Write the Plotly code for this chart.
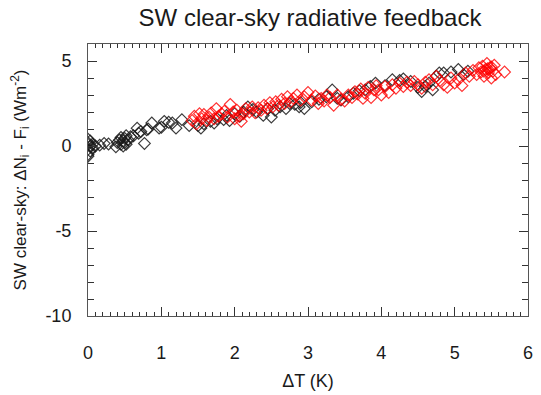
import plotly.graph_objects as go

# Black series (dT, SW clear-sky)
black_x = [0.00, 0.00, 0.00, 0.00, 0.00, 0.00, 0.03, 0.03, 0.03, 0.06, 0.06, 0.10, 0.16, 0.22, 0.28,
           0.38, 0.40, 0.43, 0.45, 0.45, 0.48, 0.48, 0.50, 0.50, 0.52, 0.52, 0.55, 0.58, 0.62, 0.67,
           0.69, 0.72, 0.77, 0.80, 0.82, 0.87, 0.97, 1.00, 1.04, 1.10, 1.15, 1.20, 1.28, 1.38, 1.50,
           1.54, 1.58, 1.67, 1.72, 1.76, 1.85, 1.89, 1.93, 2.00, 2.07, 2.12, 2.18, 2.25, 2.30, 2.39,
           2.45, 2.50, 2.55, 2.62, 2.70, 2.75, 2.82, 2.88, 2.90, 2.95, 3.05, 3.15, 3.25, 3.33, 3.40,
           3.45, 3.55, 3.62, 3.70, 3.78, 3.85, 3.92, 4.05, 4.15, 4.25, 4.30, 4.40, 4.50, 4.55, 4.60,
           4.65, 4.70, 4.75, 4.79, 4.85, 4.95, 5.05, 5.12, 5.18]
black_y = [0.40, 0.10, -0.20, -0.50, -0.60, 0.20, 0.00, -0.30, 0.30, 0.10, -0.10, 0.00, 0.05, 0.15, 0.12,
           -0.05, 0.20, 0.35, 0.50, 0.10, 0.30, 0.00, 0.45, 0.20, 0.60, 0.10, 0.35, 0.55, 0.60, 1.05,
           0.75, 0.85, 0.15, 0.95, 1.00, 1.35, 1.05, 1.10, 1.45, 1.40, 1.35, 1.05, 1.55, 1.20, 1.20,
           1.05, 1.30, 1.45, 1.35, 1.60, 1.55, 1.80, 1.50, 1.90, 1.75, 2.00, 2.30, 2.15, 2.00, 1.80,
           2.20, 1.70, 2.10, 2.30, 2.20, 2.50, 2.45, 2.30, 2.55, 2.20, 2.60, 2.75, 2.90, 3.30, 2.80,
           2.70, 2.90, 3.10, 3.25, 3.30, 3.50, 3.70, 3.55, 3.90, 3.85, 3.95, 3.80, 3.45, 3.20, 3.50,
           3.70, 3.30, 4.10, 4.30, 4.30, 4.35, 4.50, 4.20, 4.40]

# Red series
red_x = [1.42, 1.45, 1.48, 1.52, 1.55, 1.58, 1.62, 1.65, 1.68, 1.72, 1.75, 1.78, 1.82, 1.86, 1.90,
         1.94, 1.98, 2.00, 2.03, 2.06, 2.09, 2.12, 2.15, 2.20, 2.24, 2.28, 2.32, 2.36, 2.40, 2.44,
         2.48, 2.52, 2.56, 2.60, 2.64, 2.68, 2.72, 2.76, 2.80, 2.85, 2.90, 2.95, 3.00, 3.05, 3.10,
         3.14, 3.18, 3.22, 3.26, 3.30, 3.35, 3.40, 3.45, 3.50, 3.55, 3.60, 3.64, 3.68, 3.72, 3.75,
         3.78, 3.82, 3.86, 3.90, 3.93, 3.96, 4.00, 4.05, 4.10, 4.15, 4.20, 4.25, 4.30, 4.35, 4.40,
         4.45, 4.50, 4.55, 4.60, 4.65, 4.70, 4.75, 4.80, 4.85, 4.90, 4.95, 5.00, 5.05, 5.10, 5.15,
         5.20, 5.25, 5.30, 5.33, 5.36, 5.38, 5.40, 5.42, 5.44, 5.46, 5.48, 5.50, 5.52, 5.54, 5.56,
         5.45, 5.50, 5.40, 5.68]
red_y = [1.50, 1.75, 1.30, 1.90, 1.60, 1.85, 1.50, 1.70, 1.95, 1.60, 2.20, 1.75, 1.90, 2.05, 1.70,
         2.45, 2.00, 1.60, 2.10, 1.75, 1.45, 1.90, 2.20, 2.00, 2.30, 1.95, 2.25, 2.10, 2.40, 2.20,
         2.55, 2.30, 2.60, 2.40, 2.75, 2.50, 2.90, 2.60, 2.80, 3.00, 2.70, 2.90, 3.15, 2.70, 2.95,
         2.50, 2.80, 2.65, 3.00, 2.85, 2.40, 3.00, 2.75, 2.65, 3.00, 2.85, 3.20, 3.05, 3.35, 2.80,
         3.10, 3.45, 2.85, 3.30, 3.55, 3.30, 3.00, 3.50, 3.15, 3.60, 3.40, 3.70, 3.50, 3.75, 3.55,
         3.80, 3.60, 3.40, 3.75, 3.90, 3.60, 4.10, 3.85, 3.60, 3.45, 4.00, 3.70, 3.90, 3.55, 4.30,
         4.10, 4.45, 4.20, 4.60, 4.35, 4.70, 4.10, 4.50, 4.85, 4.30, 4.60, 4.00, 4.40, 4.75, 4.20,
         4.55, 4.65, 4.40, 4.35]

x_ticks = [0, 1, 2, 3, 4, 5, 6]
x_ticklabels = ["0", "1", "2", "3", "4", "5", "6"]
y_ticks = [-10, -5, 0, 5]
y_ticklabels = ["-10", "-5", "0", "5"]

FONT = "Liberation Sans, Arial, Helvetica, sans-serif"
TXT = "#1a1a1a"

fig = go.Figure()
fig.add_trace(go.Scatter(
    x=black_x, y=black_y, mode="markers",
    marker=dict(symbol="diamond-open", size=9, color="rgba(25,25,25,0.85)", line=dict(width=1.2)),
    showlegend=False))
fig.add_trace(go.Scatter(
    x=red_x, y=red_y, mode="markers",
    marker=dict(symbol="diamond-open", size=9, color="rgba(255,0,0,0.8)", line=dict(width=1.2)),
    showlegend=False))
# invisible trace to anchor the mirrored top/right axes
fig.add_trace(go.Scatter(x=[None], y=[None], xaxis="x2", yaxis="y2", showlegend=False, hoverinfo="skip"))

axis_common = dict(
    showgrid=False, zeroline=False, showline=True, linecolor="#555555", linewidth=1,
    ticks="inside", tickcolor="#333333", tickwidth=1,
    tickfont=dict(family=FONT, size=18, color=TXT),
)
axis_nolabel = {k: v for k, v in axis_common.items() if k != "tickfont"}

fig.update_layout(
    width=541, height=395,
    margin=dict(l=88, r=8, t=44, b=71),
    paper_bgcolor="white", plot_bgcolor="white",
    title=dict(text="SW clear-sky radiative feedback", x=0.573, xanchor="center",
               y=0.955, yanchor="middle",
               font=dict(family=FONT, size=24, color=TXT)),
    xaxis=dict(range=[0, 6], tickvals=x_ticks, ticktext=x_ticklabels, ticklen=9, ticklabelstandoff=20,
               minor=dict(ticks="inside", dtick=0.1, tick0=0, ticklen=4, tickcolor="#333333", showgrid=False),
               title=dict(text="ΔT (K)", standoff=12, font=dict(family=FONT, size=18, color=TXT)),
               **axis_common),
    yaxis=dict(range=[-10, 6], tickvals=y_ticks, ticktext=y_ticklabels, ticklen=9, ticklabelstandoff=12,
               minor=dict(ticks="inside", dtick=1, tick0=0, ticklen=6, tickcolor="#333333", showgrid=False),
               title=dict(text="SW clear-sky: ΔN<sub>i</sub> - F<sub>i</sub> (Wm<sup>-2</sup>)", standoff=14,
                          font=dict(family=FONT, size=17, color=TXT)),
               **axis_common),
    xaxis2=dict(range=[0, 6], overlaying="x", side="top", anchor="y", showticklabels=False,
                tickvals=x_ticks, ticklen=9,
                minor=dict(ticks="inside", dtick=0.1, tick0=0, ticklen=4, tickcolor="#333333", showgrid=False),
                **axis_nolabel),
    yaxis2=dict(range=[-10, 6], overlaying="y", side="right", anchor="x", showticklabels=False,
                tickvals=y_ticks, ticklen=9,
                minor=dict(ticks="inside", dtick=1, tick0=0, ticklen=6, tickcolor="#333333", showgrid=False),
                **axis_nolabel),
)

fig.write_html("out.html")
